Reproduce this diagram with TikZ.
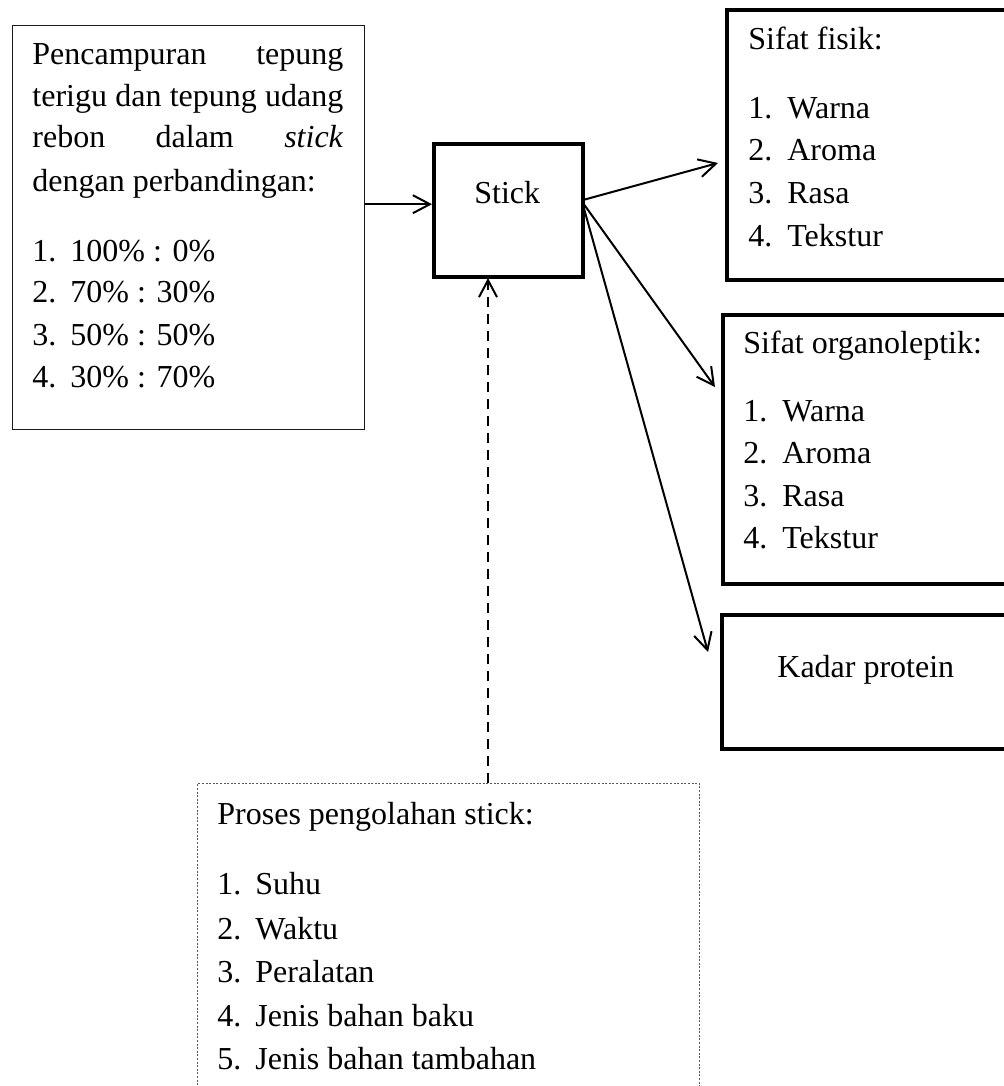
\documentclass[tikz,border=0pt]{standalone}
\usepackage{fontspec}
\setmainfont{Liberation Serif}
\usetikzlibrary{arrows.meta}
\begin{document}
\begin{tikzpicture}[x=0.5pt,y=-0.5pt,
  txt/.style={anchor=base west, inner sep=0pt, font=\fontsize{16}{19}\selectfont},
  thickbox/.style={draw, line width=2.2pt, rectangle, inner sep=0pt, anchor=north west},
  thinbox/.style={draw=black!90, line width=0.65pt, rectangle, inner sep=0pt, anchor=north west},
  dotbox/.style={draw=black!65, line width=0.5pt, dash pattern=on 1pt off 0.8pt, rectangle, inner sep=0pt, anchor=north west},
  arr/.style={line width=1pt, -{Straight Barb[length=8.5pt,width=9pt]}},
  dasharr/.style={arr, dash pattern=on 5pt off 3.5pt},
]
\useasboundingbox (0,0) rectangle (1004,1086);
\clip (0,0) rectangle (1004,1086);
\fill[white] (0,0) rectangle (1004,1086);

% boxes
\node[thinbox, minimum width=176pt, minimum height=202pt] (kiri) at (12,25) {};
\node[thickbox, minimum width=74.5pt, minimum height=66.5pt] (stick) at (432,142) {};
\node[thickbox, minimum width=147.5pt, minimum height=135pt] (fisik) at (725,8) {};
\node[thickbox, minimum width=150pt, minimum height=134.5pt] (organo) at (721,313) {};
\node[thickbox, minimum width=150pt, minimum height=67pt] (kadar) at (720,613) {};
\node[dotbox, minimum width=251pt, minimum height=160pt] (proses) at (197,783) {};

% texts: left box
\node[txt] (k1) at (32,65) {\makebox[155.5pt][s]{Pencampuran tepung}};
\node[txt] (k2) at (32,106) {\makebox[155.5pt][s]{terigu dan tepung udang}};
\node[txt] (k3) at (32,148) {\makebox[155.5pt][s]{rebon dalam \textit{stick}}};
\node[txt] (k4) at (32,191) {dengan perbandingan:};
\node[txt] (k5) at (32,261) {\makebox[19pt][l]{1.}100\% : 0\%};
\node[txt] (k6) at (32,302) {\makebox[19pt][l]{2.}70\% : 30\%};
\node[txt] (k7) at (32,345) {\makebox[19pt][l]{3.}50\% : 50\%};
\node[txt] (k8) at (32,387) {\makebox[19pt][l]{4.}30\% : 70\%};

% stick
\node[txt] (stickT) at (474,203) {Stick};

% fisik
\node[txt] (f0) at (748,50) {Sifat fisik:};
\node[txt] (f1) at (748,119) {\makebox[19.5pt][l]{1.}Warna};
\node[txt] (f2) at (748,161) {\makebox[19.5pt][l]{2.}Aroma};
\node[txt] (f3) at (748,203) {\makebox[19.5pt][l]{3.}Rasa};
\node[txt] (f4) at (748,246) {\makebox[19.5pt][l]{4.}Tekstur};

% organoleptik
\node[txt] (o0) at (743,353) {Sifat organoleptik:};
\node[txt] (o1) at (743,421) {\makebox[19.5pt][l]{1.}Warna};
\node[txt] (o2) at (743,463) {\makebox[19.5pt][l]{2.}Aroma};
\node[txt] (o3) at (743,506) {\makebox[19.5pt][l]{3.}Rasa};
\node[txt] (o4) at (743,548) {\makebox[19.5pt][l]{4.}Tekstur};

% kadar
\node[txt] (kd) at (777,677) {Kadar protein};

% proses
\node[txt] (p0) at (217,824) {Proses pengolahan stick:};
\node[txt] (p1) at (217,894) {\makebox[19pt][l]{1.}Suhu};
\node[txt] (p2) at (217,939) {\makebox[19pt][l]{2.}Waktu};
\node[txt] (p3) at (217,982) {\makebox[19pt][l]{3.}Peralatan};
\node[txt] (p4) at (217,1026) {\makebox[19pt][l]{4.}Jenis bahan baku};
\node[txt] (p5) at (217,1069) {\makebox[19pt][l]{5.}Jenis bahan tambahan};

% connectors
\path ([yshift=3.25pt]stick.west) coordinate (inS);
\draw[arr] (inS -| kiri.east) -- (inS);

\coordinate (outA) at (583,200);
\coordinate (outB) at (583,203);
\coordinate (outC) at (583,205);
\coordinate (tipF) at (718,163);
\coordinate (tipO) at (715,387);
\coordinate (tipK) at (708,652);
\draw[arr] (outA) -- (tipF);
\draw[arr] (outB) -- (tipO);
\draw[arr] (outC) -- (tipK);

\coordinate (tipD) at (488,278);
\draw[dasharr] (tipD |- proses.north) -- (tipD);
\end{tikzpicture}
\end{document}
